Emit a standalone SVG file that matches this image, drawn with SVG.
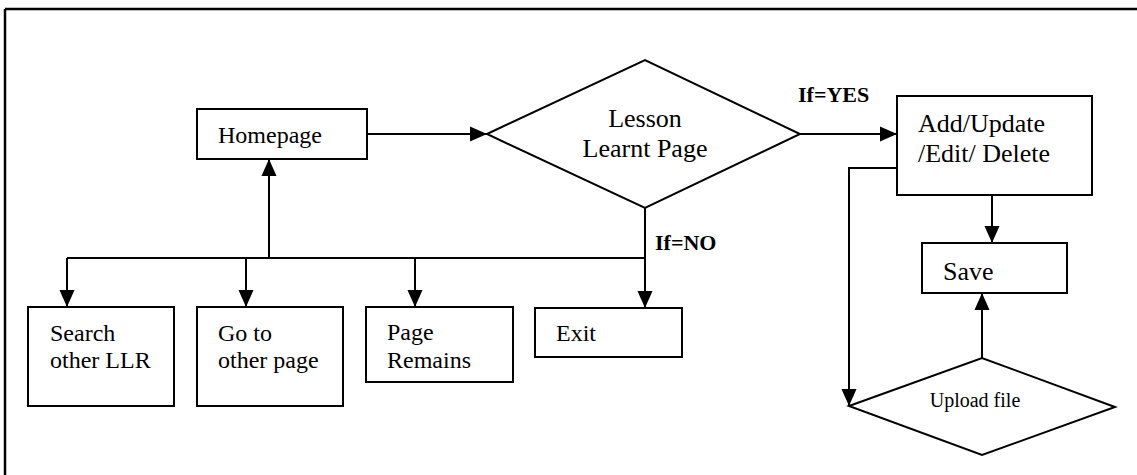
<svg xmlns="http://www.w3.org/2000/svg" width="1137" height="475" viewBox="0 0 1137 475">
<style>
.box{fill:#fff;stroke:#000;stroke-width:2}
.t{font-family:"Liberation Serif","Times New Roman",serif;font-size:24px;fill:#000}
.tl{font-family:"Liberation Serif","Times New Roman",serif;font-size:26px;fill:#000}
.b{font-family:"Liberation Serif","Times New Roman",serif;font-size:22px;font-weight:bold;fill:#000}
.c{fill:none;stroke:#000;stroke-width:2}
</style>
<defs>
<marker id="ah" markerUnits="userSpaceOnUse" markerWidth="18" markerHeight="18" viewBox="0 0 18 18" refX="17" refY="9" orient="auto">
<path d="M0,1.5 L17,9 L0,16.5 Z" fill="#000"/>
</marker>
</defs>
<rect width="1137" height="475" fill="#fff"/>
<g id="frame">
<line x1="5" y1="9" x2="1137" y2="9" stroke="#000" stroke-width="2.5"/>
<line x1="5" y1="9" x2="5" y2="475" stroke="#000" stroke-width="2.5"/>
</g>
<g id="connectors">
<line class="c" x1="367" y1="134" x2="487" y2="134" marker-end="url(#ah)"/>
<line class="c" x1="800" y1="134" x2="897" y2="134" marker-end="url(#ah)"/>
<line class="c" x1="645" y1="208" x2="645" y2="308" marker-end="url(#ah)"/>
<line class="c" x1="67" y1="258" x2="645" y2="258"/>
<line class="c" x1="269" y1="258" x2="269" y2="159" marker-end="url(#ah)"/>
<line class="c" x1="67" y1="258" x2="67" y2="307" marker-end="url(#ah)"/>
<line class="c" x1="246" y1="258" x2="246" y2="307" marker-end="url(#ah)"/>
<line class="c" x1="415" y1="258" x2="415" y2="307" marker-end="url(#ah)"/>
<line class="c" x1="992" y1="195" x2="992" y2="243" marker-end="url(#ah)"/>
<polyline class="c" points="897,168 849,168 849,406" marker-end="url(#ah)"/>
<line class="c" x1="982" y1="358" x2="982" y2="293" marker-end="url(#ah)"/>
<text class="b" x="798" y="102">If=YES</text>
<text class="b" x="655" y="250">If=NO</text>
</g>
<g id="homepage">
<rect class="box" x="197" y="109" width="170" height="50"/>
<text class="t" x="218" y="143">Homepage</text>
</g>
<g id="lesson">
<polygon class="box" points="487,134 645,60 800,134 645,208"/>
<text class="tl" x="645" y="127" text-anchor="middle">Lesson</text>
<text class="tl" x="645" y="157" text-anchor="middle">Learnt Page</text>
</g>
<g id="add">
<rect class="box" x="897" y="96" width="195" height="99"/>
<text class="tl" x="918" y="132">Add/Update</text>
<text class="tl" x="918" y="162">/Edit/ Delete</text>
</g>
<g id="save">
<rect class="box" x="922" y="243" width="145" height="50"/>
<text class="tl" x="943" y="280">Save</text>
</g>
<g id="upload">
<polygon class="box" points="849,406 982,358 1115,407 982,455"/>
<text class="t" x="975" y="407" text-anchor="middle" style="font-size:20px">Upload file</text>
</g>
<g id="search">
<rect class="box" x="28" y="307" width="146" height="99"/>
<text class="t" x="50" y="341">Search</text>
<text class="t" x="50" y="368">other LLR</text>
</g>
<g id="goto">
<rect class="box" x="197" y="307" width="146" height="99"/>
<text class="t" x="218" y="341">Go to</text>
<text class="t" x="218" y="368">other page</text>
</g>
<g id="remains">
<rect class="box" x="366" y="307" width="147" height="75"/>
<text class="t" x="387" y="340">Page</text>
<text class="t" x="387" y="368">Remains</text>
</g>
<g id="exit">
<rect class="box" x="535" y="308" width="147" height="49"/>
<text class="t" x="556" y="341">Exit</text>
</g>
</svg>
